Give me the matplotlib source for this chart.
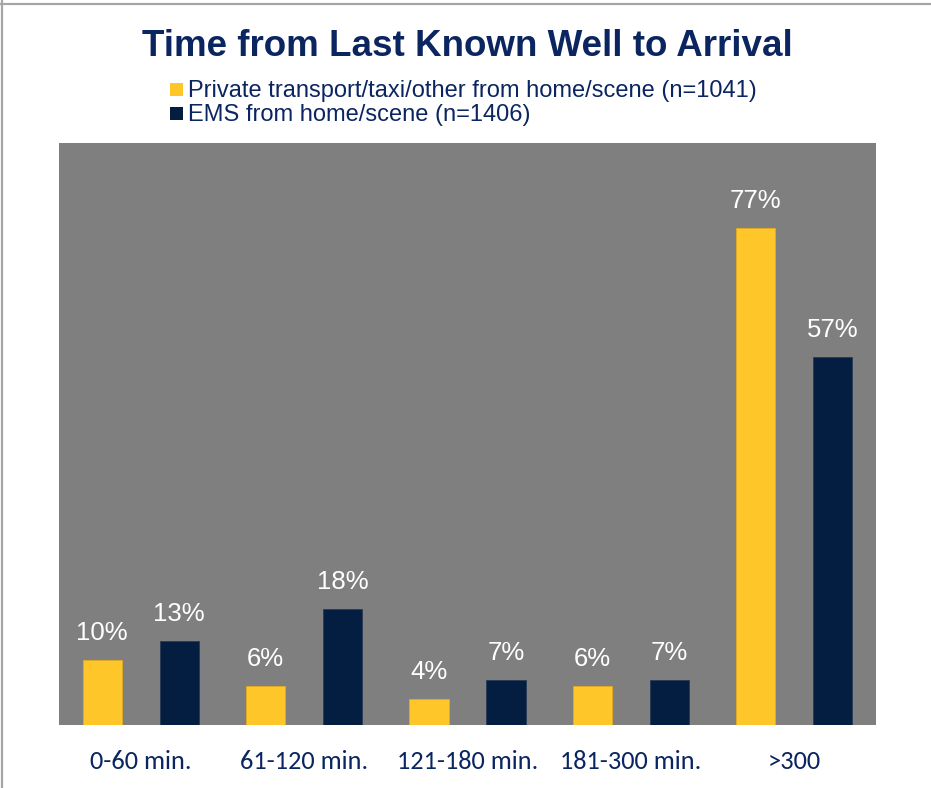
import numpy as np
import matplotlib
matplotlib.use("Agg")
import matplotlib.pyplot as plt
from matplotlib.lines import Line2D
from matplotlib.patches import Rectangle

categories = ["0-60 min.", "61-120 min.", "121-180 min.", "181-300 min.", ">300"]
private_pct = [10, 6, 4, 6, 77]
ems_pct = [13, 18, 7, 7, 57]
series_names = ["Private transport/taxi/other from home/scene (n=1041)",
                "EMS from home/scene (n=1406)"]

yellow = "#FFC629"
navy = "#041E42"
text_navy = "#0B2561"
plot_gray = "#7F7F7F"

fig = plt.figure(figsize=(9.31, 7.88), dpi=100)
fig.patch.set_facecolor("white")

ax = fig.add_axes([59 / 931, 63 / 788, 817 / 931, 582 / 788])
ax.set_facecolor(plot_gray)

x = np.arange(len(categories))
width = 0.24
off = 0.236
b1 = ax.bar(x - off, private_pct, width, color=yellow, edgecolor="#E0AC20", linewidth=0.6)
b2 = ax.bar(x + off, ems_pct, width, color=navy, edgecolor="#2A3A55", linewidth=0.6)

for bars, vals in ((b1, private_pct), (b2, ems_pct)):
    for rect, v in zip(bars, vals):
        ax.annotate(f"{v}%", (rect.get_x() + rect.get_width() / 2, v),
                    xytext=(0, 11), textcoords="offset points",
                    ha="center", va="bottom", color="white",
                    fontsize=18.5, family="Liberation Sans")

ax.set_xlim(-0.5, len(categories) - 0.5)
ax.set_ylim(0, 90.2)
ax.set_yticks([])
ax.set_xticks(x)
ax.set_xticklabels(categories, fontsize=19, color=text_navy,
                   family=["Carlito", "Lato", "DejaVu Sans"])
ax.tick_params(axis="x", length=0, pad=18)
for s in ax.spines.values():
    s.set_visible(False)

# title
fig.text(0.5025, 1 - 47 / 788, "Time from Last Known Well to Arrival", ha="center", va="center",
         fontsize=26.5, fontweight="bold", color=text_navy, family="Liberation Sans")

# legend made by hand (square marker + text)
for i, (name, col) in enumerate(zip(series_names, [yellow, navy])):
    y_base = 97 + i * 24
    fig.patches.append(Rectangle((170 / 931, 1 - (y_base - 1) / 788), 13 / 931, 13 / 788,
                                 transform=fig.transFigure, facecolor=col, edgecolor="none"))
    fig.text(188 / 931, 1 - y_base / 788, name, ha="left", va="baseline",
             fontsize=17, color=text_navy, family="Liberation Sans")

# slide border lines (top and left)
fig.lines.append(Line2D([0, 1], [1 - 3.5 / 788] * 2, transform=fig.transFigure,
                        color="#A6A6A6", linewidth=1.6))
fig.lines.append(Line2D([1.5 / 931] * 2, [0, 1], transform=fig.transFigure,
                        color="#A6A6A6", linewidth=1.6))

fig.savefig("out.png", dpi=100, facecolor="white")
